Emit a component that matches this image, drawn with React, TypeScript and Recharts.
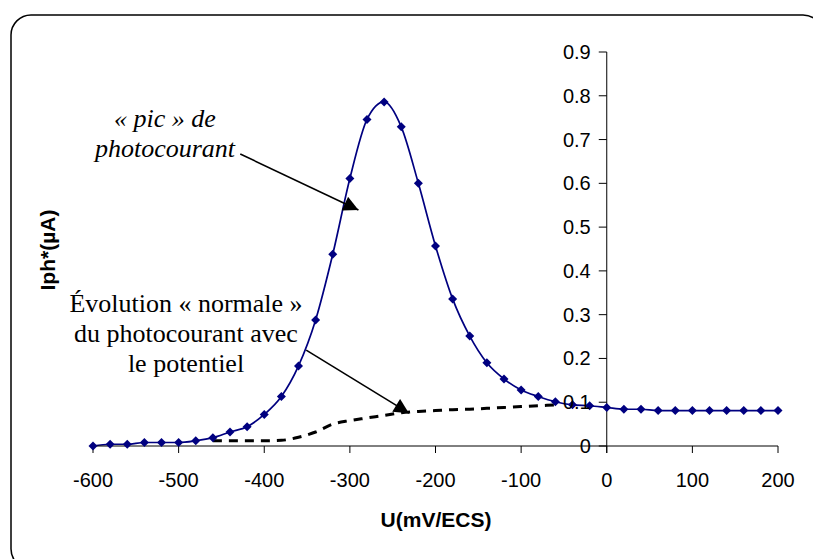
import { LineChart, Line, XAxis, YAxis, ReferenceLine } from 'recharts';

// potential (mV/ECS) and photocurrent (µA)
const potential = [
    -600, -580, -560, -540, -520, -500, -480, -460, -440, -420, -400, -380, -360, -340,
    -320, -300, -280, -260, -240, -220, -200, -180, -160, -140, -120, -100, -80, -60,
    -40, -20, 0, 20, 40, 60, 80, 100, 120, 140, 160, 180, 200,
];
const photocurrent = [
    0.0, 0.004, 0.004, 0.008, 0.008, 0.008, 0.012, 0.019, 0.032, 0.044, 0.072, 0.113, 0.183, 0.288,
    0.438, 0.611, 0.746, 0.786, 0.729, 0.6, 0.457, 0.336, 0.251, 0.19, 0.153, 0.128, 0.113, 0.101,
    0.094, 0.092, 0.088, 0.084, 0.084, 0.081, 0.081, 0.081, 0.081, 0.081, 0.081, 0.081, 0.081,
];

// "normal" evolution (dashed)
const normalPotential = [
    -460, -440, -420, -400, -380, -360, -340, -320, -300, -280, -260, -240, -220, -200,
    -180, -160, -140, -120, -100, -80, -60,
];
const normalCurrent = [
    0.012, 0.012, 0.012, 0.012, 0.013, 0.02, 0.032, 0.05, 0.058, 0.064, 0.07, 0.076, 0.079, 0.081,
    0.083, 0.084, 0.086, 0.088, 0.09, 0.092, 0.094,
];

const xTicks = [-600, -500, -400, -300, -200, -100, 0, 100, 200];
const yTicks = [0, 0.1, 0.2, 0.3, 0.4, 0.5, 0.6, 0.7, 0.8, 0.9];

const peakArrow = [{ x: -428, y: 0.667 }, { x: -290, y: 0.539 }];
const normalArrow = [{ x: -351, y: 0.219 }, { x: -231, y: 0.075 }];

const mainData = potential.map((u, i) => ({ u, iph: photocurrent[i] }));
const normalData = normalPotential.map((u, i) => ({ u, iph: normalCurrent[i] }));

const W = 813;
const H = 559;
const M = { top: 52, right: 35, bottom: 83, left: 92 };
const Y_AXIS_W = 1;
const X_MIN = -600;
const X_MAX = 200;
const PLOT_LEFT = M.left + Y_AXIS_W;
const PLOT_W = W - PLOT_LEFT - M.right;
const AXIS_X = PLOT_LEFT + ((0 - X_MIN) / (X_MAX - X_MIN)) * PLOT_W;

const NAVY = '#000080';
const sans = '"Liberation Sans", Arial, sans-serif';
const serif = '"Liberation Serif", "Times New Roman", serif';

const Diamond = (props: any) => {
    const { cx, cy } = props;
    if (cx == null || cy == null) return null;
    const r = 4.5;
    return <polygon points={`${cx},${cy - r} ${cx + r},${cy} ${cx},${cy + r} ${cx - r},${cy}`} fill={NAVY} />;
};

// y ticks are drawn next to the x=0 line, like the crossing axis in the original
const YTick = (props: any) => {
    const { y, payload } = props;
    return (
        <g>
            <line x1={AXIS_X - 8} x2={AXIS_X} y1={y} y2={y} stroke="#000" strokeWidth={1} />
            {payload.value === 0 && <line x1={AXIS_X} x2={AXIS_X} y1={y} y2={y + 7} stroke="#000" strokeWidth={1} />}
            <text x={AXIS_X - 16} y={y} dy="0.35em" textAnchor="end" fontSize={20} fontFamily={sans} fill="#000">
                {payload.value}
            </text>
        </g>
    );
};

const Arrow = (props: any) => {
    const { x1, y1, x2, y2 } = props;
    return <line x1={x1} y1={y1} x2={x2} y2={y2} stroke="#000" strokeWidth={1.6} markerEnd="url(#arrowHead)" />;
};

export default function App() {
    return (
        <div style={{ position: 'absolute', left: 0, top: 0, width: W, height: H, background: '#fff', overflow: 'hidden' }}>
            <LineChart width={W} height={H} margin={M}>
                <XAxis
                    type="number"
                    dataKey="u"
                    domain={[X_MIN, X_MAX]}
                    ticks={xTicks}
                    allowDuplicatedCategory={false}
                    height={30}
                    stroke="#000"
                    tickSize={7}
                    tickMargin={20}
                    tick={{ fill: '#000', fontSize: 20, fontFamily: sans }}
                />
                <YAxis
                    type="number"
                    domain={[0, 0.9]}
                    ticks={yTicks}
                    interval={0}
                    width={Y_AXIS_W}
                    axisLine={false}
                    tickLine={false}
                    tick={<YTick />}
                />
                <ReferenceLine x={0} stroke="#000" strokeWidth={1} />
                <Line
                    data={normalData}
                    dataKey="iph"
                    type="monotone"
                    stroke="#000"
                    strokeWidth={3}
                    strokeDasharray="9 7"
                    dot={false}
                    isAnimationActive={false}
                />
                <Line
                    data={mainData}
                    dataKey="iph"
                    type="monotone"
                    stroke={NAVY}
                    strokeWidth={1.7}
                    dot={<Diamond />}
                    isAnimationActive={false}
                />
                <ReferenceLine segment={peakArrow} shape={<Arrow />} />
                <ReferenceLine segment={normalArrow} shape={<Arrow />} />
            </LineChart>
            <svg width={W} height={H} style={{ position: 'absolute', left: 0, top: 0, pointerEvents: 'none' }}>
                <defs>
                    <marker id="arrowHead" viewBox="0 0 10 10" refX="10" refY="5" markerWidth="16" markerHeight="15" markerUnits="userSpaceOnUse" orient="auto">
                        <path d="M0,0 L10,5 L0,10 z" fill="#000" />
                    </marker>
                </defs>
                <rect x={11} y={15} width={812} height={554} rx={20} ry={20} fill="none" stroke="#000" strokeWidth={1.5} />
                <text x={436} y={520} dy="0.35em" textAnchor="middle" fontSize={21} fontWeight="bold" fontFamily={sans}>
                    U(mV/ECS)
                </text>
                <text x={48} y={250} dy="0.35em" textAnchor="middle" fontSize={21} fontWeight="bold" fontFamily={sans} transform="rotate(-90 48 250)">
                    Iph*(µA)
                </text>
                <g fontFamily={serif} fontStyle="italic" fontSize={26} textAnchor="middle">
                    <text x={165} y={127}>« pic » de</text>
                    <text x={165} y={157}>photocourant</text>
                </g>
                <g fontFamily={serif} fontSize={26} textAnchor="middle">
                    <text x={186} y={312}>Évolution « normale »</text>
                    <text x={186} y={342}>du photocourant avec</text>
                    <text x={186} y={372}>le potentiel</text>
                </g>
            </svg>
        </div>
    );
}
